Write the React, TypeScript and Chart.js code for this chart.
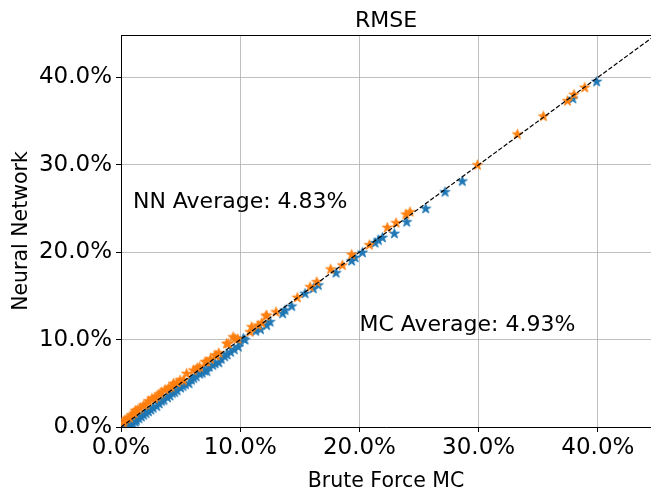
import React, { useEffect, useRef } from "react";
import { Chart, registerables } from "chart.js";

Chart.register(...registerables);

const TITLE = "RMSE";
const X_LABEL = "Brute Force MC";
const Y_LABEL = "Neural Network";
const NN_TEXT = "NN Average: 4.83%";
const MC_TEXT = "MC Average: 4.93%";
const NN_TEXT_POS = [0.01, 0.25];
const MC_TEXT_POS = [0.2, 0.11];
const X_MAX = 0.4446;
const Y_MAX = 0.4485;
const TICK_STEP = 0.1;

// Blue series (x = brute force MC, y = neural network)
const blueSeries: number[][] = [
  [0.004, 0.001], [0.006, 0.002], [0.008, 0.003], [0.010, 0.004], [0.012, 0.006],
  [0.013, 0.008], [0.015, 0.010], [0.017, 0.012], [0.019, 0.014], [0.021, 0.016],
  [0.023, 0.018], [0.025, 0.020], [0.027, 0.022], [0.030, 0.024], [0.032, 0.027],
  [0.034, 0.030], [0.036, 0.031], [0.039, 0.034], [0.041, 0.036], [0.043, 0.039],
  [0.045, 0.040], [0.047, 0.042], [0.050, 0.045], [0.052, 0.047], [0.054, 0.049],
  [0.057, 0.050], [0.059, 0.054], [0.061, 0.056], [0.063, 0.058], [0.066, 0.061],
  [0.068, 0.062], [0.070, 0.065], [0.072, 0.064], [0.074, 0.069], [0.077, 0.071],
  [0.079, 0.073], [0.082, 0.074], [0.084, 0.078], [0.087, 0.081], [0.089, 0.083],
  [0.092, 0.086], [0.095, 0.089], [0.0984, 0.0919], [0.0998, 0.0976], [0.1026, 0.1015],
  [0.104, 0.100], [0.113, 0.110], [0.117, 0.112], [0.1222, 0.1167], [0.125, 0.1205],
  [0.1356, 0.1301], [0.1376, 0.1339], [0.1432, 0.1384], [0.1544, 0.153], [0.1613, 0.1587],
  [0.1655, 0.1625], [0.1804, 0.1766], [0.1935, 0.1903], [0.1963, 0.1941], [0.2025, 0.1999],
  [0.2131, 0.2109], [0.2159, 0.214], [0.2193, 0.217], [0.2293, 0.2216], [0.2397, 0.2349],
  [0.2556, 0.2502], [0.2718, 0.2692], [0.2863, 0.2815], [0.379, 0.376], [0.399, 0.3955],
];

// Orange series
const orangeSeries: number[][] = [
  [0.002, 0.005], [0.003, 0.008], [0.005, 0.010], [0.007, 0.011], [0.009, 0.014],
  [0.011, 0.016], [0.012, 0.019], [0.014, 0.020], [0.016, 0.022], [0.019, 0.025],
  [0.021, 0.026], [0.023, 0.030], [0.026, 0.033], [0.028, 0.033], [0.030, 0.035],
  [0.032, 0.038], [0.034, 0.040], [0.037, 0.043], [0.040, 0.045], [0.042, 0.046],
  [0.044, 0.050], [0.047, 0.051], [0.0495, 0.0538], [0.0523, 0.0538], [0.055, 0.0614],
  [0.0607, 0.0652], [0.064, 0.068], [0.066, 0.069], [0.0705, 0.0747], [0.072, 0.075],
  [0.075, 0.078], [0.0789, 0.0824], [0.080, 0.082], [0.082, 0.085], [0.0886, 0.0957],
  [0.090, 0.0957], [0.094, 0.1033], [0.0956, 0.1015], [0.098, 0.101], [0.1082, 0.109],
  [0.1096, 0.1148], [0.115, 0.1167], [0.118, 0.1194], [0.1216, 0.1273], [0.1222, 0.1281],
  [0.130, 0.1319], [0.1479, 0.1484], [0.1586, 0.1606], [0.1642, 0.1663], [0.1759, 0.1808],
  [0.1857, 0.1854], [0.1935, 0.1976], [0.2083, 0.2086], [0.2234, 0.2285], [0.2307, 0.2338],
  [0.239, 0.2437], [0.2424, 0.2464], [0.299, 0.300], [0.3325, 0.3352], [0.3543, 0.3558],
  [0.3745, 0.3734], [0.380, 0.3807], [0.389, 0.3887],
];

const diagonal: number[][] = [[0, 0], [0.46, 0.46]];

const BLUE = "#1f77b4";
const ORANGE = "#ff7f0e";
const FONT = "'DejaVu Sans', sans-serif";

function starImage(color: string): HTMLCanvasElement {
  const s = 13;
  const c = document.createElement("canvas");
  c.width = s;
  c.height = s;
  const g = c.getContext("2d")!;
  const cx = s / 2, cy = s / 2 + 0.4;
  const R = 5.2, r = R * 0.382;
  g.beginPath();
  for (let i = 0; i < 10; i++) {
    const rad = i % 2 === 0 ? R : r;
    const a = -Math.PI / 2 + (i * Math.PI) / 5;
    const px = cx + rad * Math.cos(a);
    const py = cy + rad * Math.sin(a);
    if (i === 0) g.moveTo(px, py);
    else g.lineTo(px, py);
  }
  g.closePath();
  g.fillStyle = color;
  g.fill();
  g.strokeStyle = color;
  g.lineWidth = 1;
  g.lineJoin = "round";
  g.stroke();
  return c;
}

const toXY = (arr: number[][]) => arr.map(([x, y]) => ({ x, y }));

const textPlugin = {
  id: "textPlugin",
  afterDraw(chart: any) {
    const ctx = chart.ctx as CanvasRenderingContext2D;
    const { chartArea, scales } = chart;
    ctx.save();
    // top spine
    ctx.strokeStyle = "#000";
    ctx.lineWidth = 1;
    ctx.beginPath();
    ctx.moveTo(chartArea.left, Math.round(chartArea.top) + 0.5);
    ctx.lineTo(chartArea.right, Math.round(chartArea.top) + 0.5);
    ctx.stroke();

    ctx.fillStyle = "#000";
    const cx = (chartArea.left + chartArea.right) / 2;
    const cy = (chartArea.top + chartArea.bottom) / 2;
    // title
    ctx.font = `22px ${FONT}`;
    ctx.textAlign = "center";
    ctx.textBaseline = "alphabetic";
    ctx.fillText(TITLE, cx, 27);
    // x label
    ctx.font = `20.5px ${FONT}`;
    ctx.fillText(X_LABEL, cx, 487);
    // y label
    ctx.save();
    ctx.translate(27, cy);
    ctx.rotate(-Math.PI / 2);
    ctx.fillText(Y_LABEL, 0, 0);
    ctx.restore();
    // annotations
    ctx.font = `22px ${FONT}`;
    ctx.textAlign = "left";
    ctx.fillText(NN_TEXT, scales.x.getPixelForValue(NN_TEXT_POS[0]), scales.y.getPixelForValue(NN_TEXT_POS[1]));
    ctx.fillText(MC_TEXT, scales.x.getPixelForValue(MC_TEXT_POS[0]), scales.y.getPixelForValue(MC_TEXT_POS[1]));
    ctx.restore();
  },
};

export default function App() {
  const ref = useRef<HTMLCanvasElement>(null);
  useEffect(() => {
    if (!ref.current) return;
    const fmt = (v: any) => (Number(v) * 100).toFixed(1) + "%";
    const gridCommon = {
      color: "#b0b0b0",
      lineWidth: 0.8,
      tickColor: "#000",
      tickLength: 5,
      tickWidth: 1,
      drawTicks: true,
    };
    const chart = new Chart(ref.current, {
      type: "scatter",
      data: {
        datasets: [
          {
            type: "line",
            data: toXY(diagonal),
            borderColor: "#000",
            borderWidth: 1.2,
            borderDash: [4.5, 2],
            pointRadius: 0,
            fill: false,
            order: 0,
          } as any,
          {
            data: toXY(orangeSeries),
            pointStyle: starImage(ORANGE),
            pointRadius: 5,
            order: 1,
          },
          {
            data: toXY(blueSeries),
            pointStyle: starImage(BLUE),
            pointRadius: 5,
            order: 2,
          },
        ],
      },
      options: {
        responsive: false,
        animation: false,
        events: [],
        layout: { autoPadding: false, padding: { top: 35, right: 0, bottom: 0, left: 0 } },
        plugins: { legend: { display: false }, tooltip: { enabled: false }, title: { display: false } },
        scales: {
          x: {
            type: "linear",
            min: 0,
            max: X_MAX,
            grid: gridCommon,
            border: { color: "#000", width: 1 },
            ticks: {
              stepSize: TICK_STEP,
              includeBounds: false,
              callback: fmt,
              color: "#000",
              padding: 2,
              maxRotation: 0,
              autoSkip: false,
              font: { family: FONT, size: 23, lineHeight: 1.2 },
            },
            afterFit: (s: any) => {
              s.height = 67;
              s.paddingLeft = 0;
              s.paddingRight = 0;
            },
          },
          y: {
            type: "linear",
            min: 0,
            max: Y_MAX,
            grid: gridCommon,
            border: { color: "#000", width: 1 },
            ticks: {
              stepSize: TICK_STEP,
              includeBounds: false,
              callback: fmt,
              color: "#000",
              padding: 4,
              autoSkip: false,
              font: { family: FONT, size: 23, lineHeight: 1.2 },
            },
            afterFit: (s: any) => {
              s.width = 121;
              s.paddingTop = 0;
              s.paddingBottom = 0;
            },
          },
        },
      } as any,
      plugins: [textPlugin],
    });
    return () => chart.destroy();
  }, []);
  return (
    <div style={{ position: "absolute", left: 0, top: 0, width: 651, height: 494, background: "#fff" }}>
      <canvas ref={ref} width={651} height={494} />
    </div>
  );
}
